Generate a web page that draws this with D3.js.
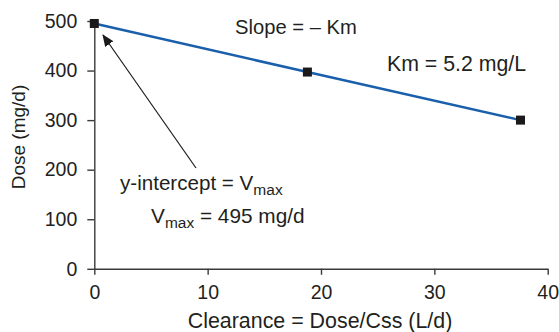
<!DOCTYPE html>
<html><head><meta charset="utf-8">
<script src="https://cdn.jsdelivr.net/npm/d3@7"></script>
<style>
html,body{margin:0;padding:0;background:#fff;}
svg text{font-family:"Liberation Sans",Arial,sans-serif;fill:#231f20;}
</style></head>
<body><svg id="c" width="559" height="332"></svg>
<script>
const clearance = [0, 18.8, 37.6];
const dose = [495, 397, 300];
const xTicks = [0, 10, 20, 30, 40];
const yTicks = [0, 100, 200, 300, 400, 500];
const xTitle = "Clearance = Dose/Css (L/d)";
const yTitle = "Dose (mg/d)";

const svg = d3.select("#c");
const x = d3.scaleLinear().domain([0, 40]).range([94.3, 547.7]);
const y = d3.scaleLinear().domain([0, 500]).range([268.8, 21]);
const axisColor = "#3a3a3a";

const gx = svg.append("g").attr("transform", `translate(0,${y(0)})`)
  .call(d3.axisBottom(x).tickValues(xTicks).tickSize(6).tickSizeOuter(0).tickPadding(10));
const gy = svg.append("g").attr("transform", `translate(${x(0)},0)`)
  .call(d3.axisLeft(y).tickValues(yTicks).tickSize(7).tickSizeOuter(0).tickPadding(10));
[gx, gy].forEach(g => {
  g.select(".domain").attr("stroke", axisColor).attr("stroke-width", 1.4);
  g.selectAll(".tick line").attr("stroke", axisColor).attr("stroke-width", 1.4);
  g.selectAll(".tick text").attr("font-size", 19.5).attr("fill", "#231f20")
    .style("font-family", "Liberation Sans, Arial, sans-serif");
});

svg.append("text").attr("x", 320).attr("y", 328).attr("text-anchor", "middle")
  .attr("font-size", 21.4).text(xTitle);
svg.append("text").attr("transform", "translate(25,137) rotate(-90)")
  .attr("text-anchor", "middle").attr("font-size", 19).text(yTitle);

const pts = clearance.map((c, i) => [c, dose[i]]);
svg.append("path").datum(pts)
  .attr("d", d3.line().x(d => x(d[0])).y(d => y(d[1])))
  .attr("fill", "none").attr("stroke", "#1a5fab").attr("stroke-width", 2.5);
svg.selectAll("rect.m").data(pts).enter().append("rect").attr("class", "m")
  .attr("x", d => x(d[0]) - 4.5).attr("y", d => y(d[1]) - 4.5)
  .attr("width", 9).attr("height", 9).attr("fill", "#1a1a1a");

// arrow
const defs = svg.append("defs");
defs.append("marker").attr("id", "ah").attr("viewBox", "0 0 12 10")
  .attr("refX", 11).attr("refY", 5).attr("markerWidth", 12).attr("markerHeight", 10)
  .attr("markerUnits", "userSpaceOnUse").attr("orient", "auto")
  .append("path").attr("d", "M0,0 L12,5 L0,10 Z").attr("fill", "#1a1a1a");
svg.append("line").attr("x1", 196).attr("y1", 168).attr("x2", 103).attr("y2", 35)
  .attr("stroke", "#1a1a1a").attr("stroke-width", 1.2).attr("marker-end", "url(#ah)");

svg.append("text").attr("x", 235).attr("y", 34).attr("font-size", 20.2).text("Slope = \u2013 Km");
svg.append("text").attr("x", 387).attr("y", 71).attr("font-size", 21.3).text("Km = 5.2 mg/L");

const t1 = svg.append("text").attr("x", 120).attr("y", 190).attr("font-size", 20.6);
t1.append("tspan").text("y-intercept = V");
t1.append("tspan").attr("font-size", 15.5).attr("dy", 5).text("max");
const t2 = svg.append("text").attr("x", 151).attr("y", 223).attr("font-size", 20.8);
t2.append("tspan").text("V");
t2.append("tspan").attr("font-size", 15.5).attr("dy", 5).text("max");
t2.append("tspan").attr("dy", -5).text(" = 495 mg/d");
</script></body></html>
